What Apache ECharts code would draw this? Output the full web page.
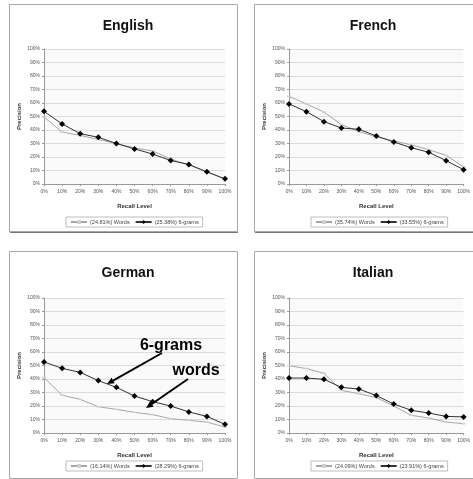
<!DOCTYPE html>
<html>
<head>
<meta charset="utf-8">
<script src="https://cdn.jsdelivr.net/npm/echarts@6/dist/echarts.min.js"></script>
<style>
  html, body { margin: 0; padding: 0; background: #ffffff; }
  #chart { width: 473px; height: 479px; }
</style>
</head>
<body>
<div id="chart"></div>
<script>
// Recall levels along the x axis
const recallLevels = ['0%', '10%', '20%', '30%', '40%', '50%', '60%', '70%', '80%', '90%', '100%'];
const precisionTicks = ['0%', '10%', '20%', '30%', '40%', '50%', '60%', '70%', '80%', '90%', '100%'];

// Panel titles and legend names (mean average precision in brackets)
const languages = ['English', 'French', 'German', 'Italian'];
const wordsNames = ['(24.81%) Words', '(35.74%) Words', '(16.14%) Words', '(24.09%) Words'];
const ngramNames = ['(25.38%) 6-grams', '(33.55%) 6-grams', '(28.29%) 6-grams', '(23.91%) 6-grams'];

// Interpolated precision (%) at each recall level
const englishWords  = [49.6, 38.5, 36, 33, 30, 26.7, 24.5, 18.5, 14, 9, 3.6];
const englishNgrams = [53.8, 44.5, 37.3, 34.6, 30, 26, 22.2, 17.4, 14.5, 9, 3.8];
const frenchWords   = [65, 59.3, 53.3, 44, 38.8, 35, 31.9, 29, 25.4, 21.2, 12.6];
const frenchNgrams  = [59.3, 53.6, 46.2, 41.5, 40.5, 35.6, 31.1, 26.9, 23.5, 17.3, 10.6];
const germanWords   = [41, 28, 24.9, 19.5, 17.5, 15.3, 13.6, 10.6, 9.4, 8.1, 4.4];
const germanNgrams  = [52.6, 47.9, 44.9, 38.8, 33.8, 27.4, 23.2, 20, 15.6, 12.3, 6.4];
const italianWords  = [49.9, 47.7, 44.2, 31.6, 29.1, 26.2, 20, 13.1, 11.1, 8.1, 6.9];
const italianNgrams = [40.7, 40.7, 39.8, 33.8, 32.6, 27.7, 21.5, 16.8, 14.8, 12.3, 11.9];

const wordsSeries = [englishWords, frenchWords, germanWords, italianWords];
const ngramSeries = [englishNgrams, frenchNgrams, germanNgrams, italianNgrams];

// Layout of the four panels (pixels)
const panels = [
  { x: 9,   y: 4,   w: 228, h: 227, plotLeft: 44,  plotTop: 49,  titleY: 14,  legendY: 217 },
  { x: 254, y: 4,   w: 228, h: 227, plotLeft: 289, plotTop: 49,  titleY: 14,  legendY: 217 },
  { x: 9,   y: 251, w: 228, h: 227, plotLeft: 44,  plotTop: 298, titleY: 261, legendY: 461 },
  { x: 254, y: 251, w: 228, h: 227, plotLeft: 289, plotTop: 298, titleY: 261, legendY: 461 }
];
const plotW = 181, plotH = 135;
const FONT = '"Liberation Sans", Arial, sans-serif';

const chart = echarts.init(document.getElementById('chart'), null, { renderer: 'canvas' });

const grid = [], xAxis = [], yAxis = [], title = [], legend = [], series = [], graphic = [];

panels.forEach((p, i) => {
  // panel frame
  graphic.push({
    type: 'rect', z: -10,
    shape: { x: p.x + 0.5, y: p.y + 0.5, width: p.w, height: p.h },
    style: { fill: '#ffffff', stroke: '#a8a8a8', lineWidth: 1 }
  });
  graphic.push({
    type: 'line', z: -9,
    shape: { x1: p.x + 1, y1: p.y + p.h + 1.5, x2: p.x + p.w + 1, y2: p.y + p.h + 1.5 },
    style: { stroke: '#777', lineWidth: 1 }
  });

  grid.push({
    left: p.plotLeft, top: p.plotTop, width: plotW, height: plotH,
    show: true, backgroundColor: '#fafafa', borderWidth: 0
  });

  title.push({
    text: languages[i],
    left: p.x + p.w / 2, top: p.titleY, textAlign: 'center',
    textStyle: { fontFamily: FONT, fontSize: 14, fontWeight: 'bold', color: '#111' }
  });

  xAxis.push({
    type: 'category', gridIndex: i, data: recallLevels, boundaryGap: false,
    name: 'Recall Level', nameLocation: 'middle', nameGap: 19,
    nameTextStyle: { fontFamily: FONT, fontSize: 6, fontWeight: 'bold', color: '#333' },
    axisLine: { lineStyle: { color: '#999', width: 1 } },
    axisTick: { show: true, length: 2, lineStyle: { color: '#999' } },
    axisLabel: { fontFamily: FONT, fontSize: 5, color: '#555', margin: 5, interval: 0 },
    splitLine: { show: false }
  });

  yAxis.push({
    type: 'value', gridIndex: i, min: 0, max: 100, interval: 10,
    name: 'Precision', nameLocation: 'middle', nameGap: 22,
    nameTextStyle: { fontFamily: FONT, fontSize: 6, fontWeight: 'bold', color: '#333' },
    axisLine: { show: true, lineStyle: { color: '#999', width: 1 } },
    axisTick: { show: true, length: 2, lineStyle: { color: '#999' } },
    axisLabel: {
      fontFamily: FONT, fontSize: 5, color: '#555', margin: 4,
      formatter: v => precisionTicks[Math.round(v / 10)]
    },
    splitLine: { show: true, lineStyle: { color: '#dcdcdc', width: 1 } }
  });

  legend.push({
    data: [wordsNames[i], ngramNames[i]],
    left: p.plotLeft + 22, top: p.legendY,
    orient: 'horizontal',
    borderColor: '#bdbdbd', borderWidth: 1, borderRadius: 0,
    padding: [2, 4], itemGap: 5, itemWidth: 16, itemHeight: 5,
    selectedMode: false,
    textStyle: { fontFamily: FONT, fontSize: 5.5, color: '#444', padding: [0, 0, 0, -2] }
  });

  series.push({
    type: 'line', name: wordsNames[i], xAxisIndex: i, yAxisIndex: i,
    data: wordsSeries[i],
    symbol: 'rect', symbolSize: [4, 1.5],
    itemStyle: { color: '#d0d0d0', borderWidth: 0 },
    lineStyle: { color: '#a6a6a6', width: 1 },
    emphasis: { disabled: true }, z: 2, animation: false
  });
  series.push({
    type: 'line', name: ngramNames[i], xAxisIndex: i, yAxisIndex: i,
    data: ngramSeries[i],
    symbol: 'diamond', symbolSize: 6,
    itemStyle: { color: '#000000', borderWidth: 0 },
    lineStyle: { color: '#333333', width: 1 },
    emphasis: { disabled: true }, z: 3, animation: false
  });
});

// Callouts on the German panel
const arrow = (x1, y1, x2, y2) => {
  const ang = Math.atan2(y2 - y1, x2 - x1);
  const L = 7, W = 3.2;
  const bx = x2 - L * Math.cos(ang), by = y2 - L * Math.sin(ang);
  const nx = -Math.sin(ang), ny = Math.cos(ang);
  return [
    { type: 'line', z: 20, shape: { x1, y1, x2: bx, y2: by }, style: { stroke: '#000', lineWidth: 2 } },
    { type: 'polygon', z: 20, shape: { points: [[x2, y2], [bx + nx * W, by + ny * W], [bx - nx * W, by - ny * W]] }, style: { fill: '#000' } }
  ];
};
graphic.push({
  type: 'text', z: 20, x: 171, y: 346,
  style: { text: '6-grams', font: 'bold 16px ' + FONT, fill: '#000', align: 'center', verticalAlign: 'middle' }
});
graphic.push({
  type: 'text', z: 20, x: 196, y: 371,
  style: { text: 'words', font: 'bold 16px ' + FONT, fill: '#000', align: 'center', verticalAlign: 'middle' }
});
graphic.push(...arrow(162, 353, 107, 384));
graphic.push(...arrow(188, 379, 146, 408));

chart.setOption({
  animation: false,
  backgroundColor: '#ffffff',
  title, grid, xAxis, yAxis, legend, series, graphic
});
</script>
</body>
</html>
